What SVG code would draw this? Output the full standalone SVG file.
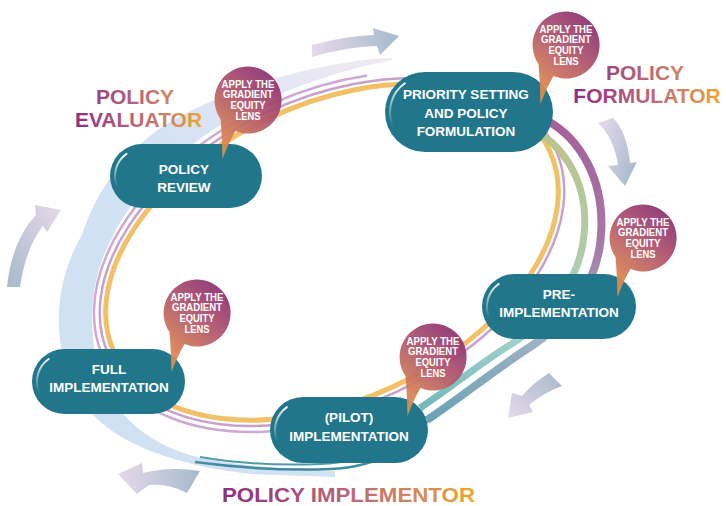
<svg xmlns="http://www.w3.org/2000/svg" width="726" height="506" viewBox="0 0 726 506">
<defs>
<style>
.pill{fill:#22768b}
.hl{fill:none;stroke:url(#gHl);stroke-width:2;stroke-linecap:round}
.nt{font-family:"Liberation Sans",Arial,sans-serif;font-weight:bold;font-size:13.5px;fill:#fff;text-anchor:middle}
.bt{font-family:"Liberation Sans",Arial,sans-serif;font-weight:bold;font-size:10.5px;fill:#fff;text-anchor:middle}
.role{font-family:"Liberation Sans",Arial,sans-serif;font-weight:bold;font-size:21px;text-anchor:middle}
.ring{fill:none}
.bub{fill:url(#gBub);opacity:0.93}
</style>
<linearGradient id="gHl" x1="0" y1="0" x2="0" y2="1"><stop offset="0" stop-color="#fff" stop-opacity="0.95"/><stop offset="1" stop-color="#fff" stop-opacity="0.05"/></linearGradient>
<linearGradient id="gBub" x1="0.85" y1="0" x2="0.25" y2="1"><stop offset="0" stop-color="#862a72"/><stop offset="0.45" stop-color="#b0556c"/><stop offset="1" stop-color="#e3904a"/></linearGradient>
<linearGradient id="gBlue" gradientUnits="userSpaceOnUse" x1="392" y1="58" x2="80" y2="300"><stop offset="0" stop-color="#f1e9f3"/><stop offset="0.6" stop-color="#d3e3f4"/><stop offset="1" stop-color="#cfe1f3"/></linearGradient>
<linearGradient id="gPur" gradientUnits="userSpaceOnUse" x1="0" y1="115" x2="0" y2="470"><stop offset="0" stop-color="#a45f9c"/><stop offset="0.35" stop-color="#a677a6"/><stop offset="0.62" stop-color="#a2b2c4"/><stop offset="0.85" stop-color="#6aa4b3"/><stop offset="1" stop-color="#3f8a9c"/></linearGradient>
<linearGradient id="gMint" gradientUnits="userSpaceOnUse" x1="0" y1="125" x2="0" y2="470"><stop offset="0" stop-color="#bcc38a"/><stop offset="0.35" stop-color="#b0cca6"/><stop offset="0.62" stop-color="#9fd3cb"/><stop offset="0.85" stop-color="#6fb2b7"/><stop offset="1" stop-color="#4a96a6"/></linearGradient>
<linearGradient id="gA1" x1="0" y1="0" x2="1" y2="0"><stop offset="0" stop-color="#e6d9eb"/><stop offset="1" stop-color="#a6bacb"/></linearGradient>
<linearGradient id="gA2" x1="0" y1="0.2" x2="1" y2="0.8"><stop offset="0" stop-color="#e4d8eb"/><stop offset="1" stop-color="#a6bacb"/></linearGradient>
<linearGradient id="gA3" x1="0" y1="1" x2="1" y2="0"><stop offset="0" stop-color="#e6d9eb"/><stop offset="1" stop-color="#a6bacb"/></linearGradient>
<linearGradient id="gA4" x1="0" y1="0" x2="1" y2="0"><stop offset="0" stop-color="#e6d9eb"/><stop offset="1" stop-color="#a6bacb"/></linearGradient>
<linearGradient id="gA5" x1="1" y1="0" x2="0" y2="1"><stop offset="0" stop-color="#e6d9eb"/><stop offset="1" stop-color="#a6bacb"/></linearGradient>
<linearGradient id="gL1" gradientUnits="userSpaceOnUse" x1="75" y1="0" x2="203" y2="0"><stop offset="0" stop-color="#8b2f80"/><stop offset="0.5" stop-color="#b8697a"/><stop offset="0.85" stop-color="#dc9250"/><stop offset="1" stop-color="#efa92a"/></linearGradient>
<linearGradient id="gL2" gradientUnits="userSpaceOnUse" x1="575" y1="0" x2="722" y2="0"><stop offset="0" stop-color="#8b2f80"/><stop offset="0.5" stop-color="#b8697a"/><stop offset="0.85" stop-color="#dc9250"/><stop offset="1" stop-color="#efa92a"/></linearGradient>
<linearGradient id="gL3" gradientUnits="userSpaceOnUse" x1="222" y1="0" x2="475" y2="0"><stop offset="0" stop-color="#8b2f80"/><stop offset="0.5" stop-color="#b8697a"/><stop offset="0.85" stop-color="#dc9250"/><stop offset="1" stop-color="#efa92a"/></linearGradient>
<path id="bubble" d="M-27.4,19.2 Q-26,37 -25.5,59 Q-19,42 -12.5,31.1 A33.5 33.5 0 1 0 -27.4,19.2 Z"/>
</defs>

<g id="connectors">
  <path d="M392,58 C330,60 230,85 165,125 C120,155 95,195 82,235 C55,280 48,345 80,398 C105,440 170,465 250,474 L335,477 L335,471 C300,470 230,466 190,455 C140,440 105,405 96,360 C88,315 92,275 112,238 C130,200 165,160 225,122 C270,95 330,72 392,60 Z" fill="url(#gBlue)"/>
  <g transform="translate(332 252) rotate(-25)">
    <path class="ring" d="M106.5,-145 A252 160 0 1 0 -43.8,157.6" stroke="#cfaad0" stroke-width="2.5"/>
    <ellipse class="ring" cx="0" cy="0" rx="246" ry="154" stroke="#c9a0cb" stroke-width="2.5"/>
    <ellipse class="ring" cx="0" cy="0" rx="240" ry="148" stroke="#f1c067" stroke-width="5"/>
  </g>
  <path class="ring" d="M546,120 C580,138 605,180 601,235 C598,285 565,325 530,347 C500,366 460,398 427,420" stroke="url(#gPur)" stroke-width="8"/>
  <path class="ring" d="M432,414 C415,445 380,467 330,469 C280,471 240,468 195,462" stroke="url(#gPur)" stroke-width="2.5"/>
  <path class="ring" d="M541,134 C570,154 589,190 584,235 C580,280 548,322 510,345 C485,360 450,388 420,408" stroke="url(#gMint)" stroke-width="7"/>
  <path class="ring" d="M425,404 C405,440 372,462 320,464 C270,466 235,463 200,457" stroke="url(#gMint)" stroke-width="2"/>

  <path d="M312,45 Q345,36 374,35 L373,28 L399,36 L380,55 L377,46 Q345,47 312,57 Z" fill="url(#gA1)"/>
  <path d="M598,123 Q614,138 618,165 L608,166 L625,186 L637,162 L630,163 Q627,132 613,118 Z" fill="url(#gA2)"/>
  <path d="M549,373 Q533,383 522,396 L512,393 L508,418 L533,412 L529,405 Q545,392 562,386 Z" fill="url(#gA3)"/>
  <path d="M200,471 Q170,466 143,473 L142,463 L118,474 L137,494 L149,485 Q168,483 187,493 Z" fill="url(#gA4)"/>
  <path d="M7,287 Q12,240 36,215 L35,205 L61,210 L47,232 L43,226 Q26,247 20,287 Z" fill="url(#gA5)"/>
</g>

<g id="node-priority-setting">
  <rect class="pill" x="385" y="72" width="168" height="80" rx="40"/>
  <path class="hl" d="M404.9,83.3 A35 35 0 0 0 392.1,124"/>
  <text class="nt" x="466" y="99">PRIORITY SETTING</text>
  <text class="nt" x="466" y="117.5">AND POLICY</text>
  <text class="nt" x="466" y="136">FORMULATION</text>
</g>
<g id="node-policy-review">
  <rect class="pill" x="110" y="144" width="152" height="64" rx="32"/>
  <path class="hl" d="M126.5,153.9 A27 27 0 0 0 116.6,185.2"/>
  <text class="nt" x="184" y="174">POLICY</text>
  <text class="nt" x="184" y="192">REVIEW</text>
</g>
<g id="node-pre-implementation">
  <rect class="pill" x="482" y="274" width="154" height="65" rx="32.5"/>
  <path class="hl" d="M498.7,284 A27.5 27.5 0 0 0 488.6,315.9"/>
  <text class="nt" x="559" y="299">PRE-</text>
  <text class="nt" x="559" y="317">IMPLEMENTATION</text>
</g>
<g id="node-full-implementation">
  <rect class="pill" x="32" y="349" width="153" height="65" rx="32.5"/>
  <path class="hl" d="M48.7,359 A27.5 27.5 0 0 0 38.6,390.9"/>
  <text class="nt" x="109" y="374">FULL</text>
  <text class="nt" x="109" y="392">IMPLEMENTATION</text>
</g>
<g id="node-pilot-implementation">
  <rect class="pill" x="270" y="397" width="158" height="66" rx="33"/>
  <path class="hl" d="M286.9,407.1 A28 28 0 0 0 276.7,439.6"/>
  <text class="nt" x="349" y="422">(PILOT)</text>
  <text class="nt" x="349" y="441">IMPLEMENTATION</text>
</g>

<g id="lens-1" transform="translate(566 45)">
  <use href="#bubble" class="bub"/>
  <text class="bt" y="-12.5" textLength="53" lengthAdjust="spacingAndGlyphs">APPLY THE</text><text class="bt" y="-1.8" textLength="50" lengthAdjust="spacingAndGlyphs">GRADIENT</text><text class="bt" y="8.9" textLength="35" lengthAdjust="spacingAndGlyphs">EQUITY</text><text class="bt" y="19.6" textLength="25" lengthAdjust="spacingAndGlyphs">LENS</text>
</g>
<g id="lens-2" transform="translate(248 100)">
  <use href="#bubble" class="bub"/>
  <text class="bt" y="-12.5" textLength="53" lengthAdjust="spacingAndGlyphs">APPLY THE</text><text class="bt" y="-1.8" textLength="50" lengthAdjust="spacingAndGlyphs">GRADIENT</text><text class="bt" y="8.9" textLength="35" lengthAdjust="spacingAndGlyphs">EQUITY</text><text class="bt" y="19.6" textLength="25" lengthAdjust="spacingAndGlyphs">LENS</text>
</g>
<g id="lens-3" transform="translate(643 238)">
  <use href="#bubble" class="bub"/>
  <text class="bt" y="-12.5" textLength="53" lengthAdjust="spacingAndGlyphs">APPLY THE</text><text class="bt" y="-1.8" textLength="50" lengthAdjust="spacingAndGlyphs">GRADIENT</text><text class="bt" y="8.9" textLength="35" lengthAdjust="spacingAndGlyphs">EQUITY</text><text class="bt" y="19.6" textLength="25" lengthAdjust="spacingAndGlyphs">LENS</text>
</g>
<g id="lens-4" transform="translate(197 313)">
  <use href="#bubble" class="bub"/>
  <text class="bt" y="-12.5" textLength="53" lengthAdjust="spacingAndGlyphs">APPLY THE</text><text class="bt" y="-1.8" textLength="50" lengthAdjust="spacingAndGlyphs">GRADIENT</text><text class="bt" y="8.9" textLength="35" lengthAdjust="spacingAndGlyphs">EQUITY</text><text class="bt" y="19.6" textLength="25" lengthAdjust="spacingAndGlyphs">LENS</text>
</g>
<g id="lens-5" transform="translate(433 357)">
  <use href="#bubble" class="bub"/>
  <text class="bt" y="-12.5" textLength="53" lengthAdjust="spacingAndGlyphs">APPLY THE</text><text class="bt" y="-1.8" textLength="50" lengthAdjust="spacingAndGlyphs">GRADIENT</text><text class="bt" y="8.9" textLength="35" lengthAdjust="spacingAndGlyphs">EQUITY</text><text class="bt" y="19.6" textLength="25" lengthAdjust="spacingAndGlyphs">LENS</text>
</g>

<g id="role-evaluator">
  <text class="role" x="135" y="104" fill="url(#gL1)">POLICY</text>
  <text class="role" x="138.5" y="127" fill="url(#gL1)">EVALUATOR</text>
</g>
<g id="role-formulator">
  <text class="role" x="645" y="80" fill="url(#gL2)">POLICY</text>
  <text class="role" x="647" y="103" fill="url(#gL2)">FORMULATOR</text>
</g>
<g id="role-implementor">
  <text class="role" x="348.5" y="502" textLength="253" lengthAdjust="spacingAndGlyphs" fill="url(#gL3)">POLICY IMPLEMENTOR</text>
</g>
</svg>
